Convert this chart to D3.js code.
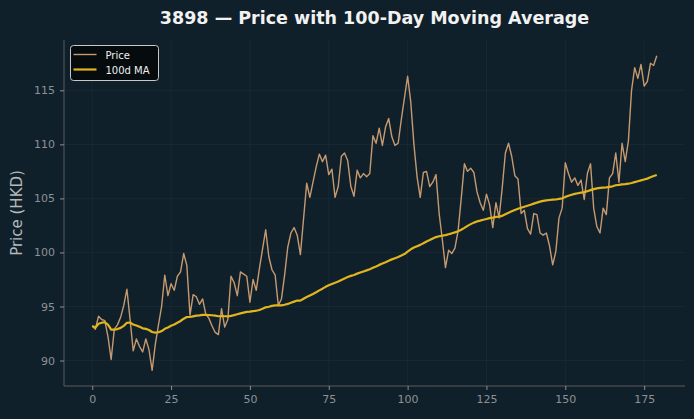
<!doctype html>
<html>
<head>
<meta charset="UTF-8">
<title>3898 price</title>
<style>
  body { margin: 0; background: #10202a; }
  #chart { width: 694px; height: 419px; font-size: 0; }
  text { font-family: "DejaVu Sans", sans-serif; }
</style>
</head>
<body>
<div id="chart"></div>
<script src="https://cdn.jsdelivr.net/npm/d3@7"></script>
<script>
  var W = 694, H = 419;

  // daily closing price (index = trading day)
  var priceValues = [
    93.2, 92.9, 94.1, 93.8, 93.7, 92.2, 90.1, 92.9, 93.3, 94.0,
    95.1, 96.6, 93.8, 90.9, 92.0, 91.3, 90.8, 92.0, 91.0, 89.1,
    91.5, 93.3, 95.0, 97.9, 96.0, 97.1, 96.5, 97.8, 98.2, 99.9,
    98.8, 94.2, 96.1, 95.9, 95.2, 95.7, 94.3, 93.9, 93.2, 92.6,
    92.4, 94.8, 93.1, 93.8, 97.8, 97.2, 96.0, 98.2, 98.0, 97.8,
    95.4, 97.5, 96.5, 98.5, 100.3, 102.1, 99.6, 98.4, 97.9, 95.1,
    95.7, 97.9, 100.5, 101.8, 102.3, 101.6, 99.8, 103.1, 106.4, 105.1,
    106.5, 107.9, 109.1, 108.4, 109.0, 107.2, 107.7, 105.1, 106.1, 108.9,
    109.2, 108.5, 106.1, 105.2, 107.6, 106.9, 107.3, 107.0, 107.3, 110.8,
    110.1, 111.5, 109.9, 111.6, 112.4, 110.7, 109.9, 110.1, 112.3, 114.3,
    116.3, 113.9, 110.0, 107.0, 105.1, 107.4, 107.5, 106.1, 106.5, 107.2,
    103.6, 101.2, 98.6, 100.2, 99.9, 100.4, 102.0, 105.0, 108.2, 107.5,
    107.8, 107.4, 105.6, 104.6, 103.9, 105.4, 104.4, 102.3, 104.6, 103.2,
    106.0, 109.2, 110.1, 108.9, 107.1, 106.8, 103.6, 103.9, 102.2, 101.7,
    103.6, 103.5, 101.8, 101.6, 101.8, 100.6, 98.85, 100.1, 103.2, 104.1,
    108.3, 107.3, 106.5, 106.9, 106.2, 106.7, 104.9, 107.3, 108.2, 104.1,
    102.4, 101.8, 104.1, 103.5, 106.9, 107.3, 109.2, 106.5, 110.1, 108.4,
    110.3, 115.0, 117.1, 116.1, 117.4, 115.4, 115.8, 117.5, 117.3, 118.2
  ];

  // 100-day moving average
  var maValues = [
    93.20, 93.05, 93.40, 93.50, 93.54, 93.32, 92.86, 92.86, 92.91, 93.02,
    93.21, 93.49, 93.52, 93.33, 93.24, 93.12, 92.98, 92.93, 92.83, 92.64,
    92.59, 92.62, 92.72, 92.94, 93.06, 93.22, 93.34, 93.50, 93.66, 93.87,
    94.03, 94.03, 94.09, 94.15, 94.18, 94.22, 94.22, 94.21, 94.19, 94.15,
    94.10, 94.12, 94.10, 94.09, 94.13, 94.20, 94.28, 94.36, 94.43, 94.50,
    94.52, 94.57, 94.61, 94.68, 94.79, 94.92, 94.98, 95.06, 95.11, 95.11,
    95.11, 95.16, 95.24, 95.35, 95.45, 95.55, 95.54, 95.72, 95.88, 96.01,
    96.16, 96.32, 96.49, 96.65, 96.82, 96.96, 97.09, 97.20, 97.31, 97.46,
    97.60, 97.73, 97.83, 97.92, 98.04, 98.14, 98.24, 98.34, 98.44, 98.58,
    98.71, 98.85, 98.97, 99.10, 99.24, 99.36, 99.47, 99.58, 99.71, 99.85,
    100.08, 100.29, 100.45, 100.58, 100.70, 100.85, 101.02, 101.15, 101.29, 101.42,
    101.50, 101.55, 101.60, 101.69, 101.77, 101.86, 101.97, 102.10, 102.27, 102.46,
    102.62, 102.76, 102.87, 102.94, 103.02, 103.10, 103.18, 103.22, 103.29, 103.32,
    103.39, 103.54, 103.68, 103.81, 103.93, 104.04, 104.13, 104.23, 104.32, 104.41,
    104.52, 104.61, 104.70, 104.77, 104.81, 104.85, 104.88, 104.90, 104.95, 105.01,
    105.14, 105.24, 105.34, 105.42, 105.48, 105.53, 105.58, 105.67, 105.77, 105.86,
    105.93, 105.97, 106.00, 106.02, 106.07, 106.12, 106.22, 106.25, 106.29, 106.32,
    106.36, 106.43, 106.51, 106.59, 106.67, 106.75, 106.83, 106.96, 107.07, 107.16
  ];

  var xTicks = [0, 25, 50, 75, 100, 125, 150, 175];
  var yTicks = [90, 95, 100, 105, 110, 115];
  var seriesNames = ["Price", "100d MA"];
  var seriesColors = ["#c69a70", "#e2b41e"];

  var plotL = 64, plotR = 685, plotT = 40, plotB = 386;

  var n = priceValues.length;
  var xPad = (n - 1) * 0.05;
  var yMin = d3.min(priceValues), yMax = d3.max(priceValues);
  var yPad = (yMax - yMin) * 0.05;

  var x = d3.scaleLinear().domain([-xPad, n - 1 + xPad]).range([plotL, plotR]);
  var y = d3.scaleLinear().domain([yMin - yPad, yMax + yPad]).range([plotB, plotT]);

  var svg = d3.select("#chart").append("svg")
      .attr("width", W)
      .attr("height", H);

  svg.append("rect").attr("width", W).attr("height", H).attr("fill", "#10202a");

  // grid
  svg.append("g").selectAll("line").data(xTicks).enter().append("line")
      .attr("x1", function (d) { return x(d); })
      .attr("x2", function (d) { return x(d); })
      .attr("y1", plotT).attr("y2", plotB)
      .attr("stroke", "#1a2b34").attr("stroke-width", 0.8);
  svg.append("g").selectAll("line").data(yTicks).enter().append("line")
      .attr("y1", function (d) { return y(d); })
      .attr("y2", function (d) { return y(d); })
      .attr("x1", plotL).attr("x2", plotR)
      .attr("stroke", "#1a2b34").attr("stroke-width", 0.8);

  // axes
  var xAxis = svg.append("g")
      .attr("transform", "translate(0," + plotB + ")")
      .call(d3.axisBottom(x).tickValues(xTicks).tickSize(4).tickPadding(5).tickSizeOuter(0));
  var yAxis = svg.append("g")
      .attr("transform", "translate(" + plotL + ",0)")
      .call(d3.axisLeft(y).tickValues(yTicks).tickSize(4).tickPadding(5).tickSizeOuter(0));

  [xAxis, yAxis].forEach(function (g) {
    g.select(".domain").attr("stroke", "#5a5a5a");
    g.selectAll(".tick line").attr("stroke", "#8a8f93");
    g.selectAll(".tick text")
        .attr("fill", "#8c9196")
        .attr("font-size", 11)
        .attr("font-family", "DejaVu Sans, sans-serif");
  });
  xAxis.select(".domain").attr("d", "M" + plotL + ",0H" + plotR);
  yAxis.select(".domain").attr("d", "M0," + plotT + "V" + plotB);

  // lines
  var line = d3.line()
      .x(function (d, i) { return x(i); })
      .y(function (d) { return y(d); });

  svg.append("path")
      .datum(priceValues)
      .attr("d", line)
      .attr("fill", "none")
      .attr("stroke", seriesColors[0])
      .attr("stroke-width", 1.4)
      .attr("stroke-linejoin", "round");

  svg.append("path")
      .datum(maValues)
      .attr("d", line)
      .attr("fill", "none")
      .attr("stroke", seriesColors[1])
      .attr("stroke-width", 2.2)
      .attr("stroke-linejoin", "round");

  // title + y label
  svg.append("text")
      .attr("x", (plotL + plotR) / 2)
      .attr("y", 24)
      .attr("text-anchor", "middle")
      .attr("font-size", 17.5)
      .attr("font-weight", "bold")
      .attr("fill", "#f2f2f2")
      .text("3898 \u2014 Price with 100-Day Moving Average");

  svg.append("text")
      .attr("transform", "translate(22," + ((plotT + plotB) / 2) + ") rotate(-90)")
      .attr("text-anchor", "middle")
      .attr("font-size", 15)
      .attr("fill", "#b4b9bc")
      .text("Price (HKD)");

  // legend
  var lg = svg.append("g").attr("transform", "translate(70.5,45.5)");
  lg.append("rect")
      .attr("width", 88).attr("height", 35).attr("rx", 3)
      .attr("fill", "#05090b").attr("fill-opacity", 0.9)
      .attr("stroke", "#c8c8c8").attr("stroke-width", 1);
  seriesNames.forEach(function (name, i) {
    lg.append("line")
        .attr("x1", 3).attr("x2", 26)
        .attr("y1", 9 + i * 15).attr("y2", 9 + i * 15)
        .attr("stroke", seriesColors[i])
        .attr("stroke-width", i === 0 ? 1.4 : 2.2);
    lg.append("text")
        .attr("x", 35).attr("y", 13 + i * 15)
        .attr("font-size", 10)
        .attr("fill", "#f0f0f0")
        .text(name);
  });
</script>
</body>
</html>
